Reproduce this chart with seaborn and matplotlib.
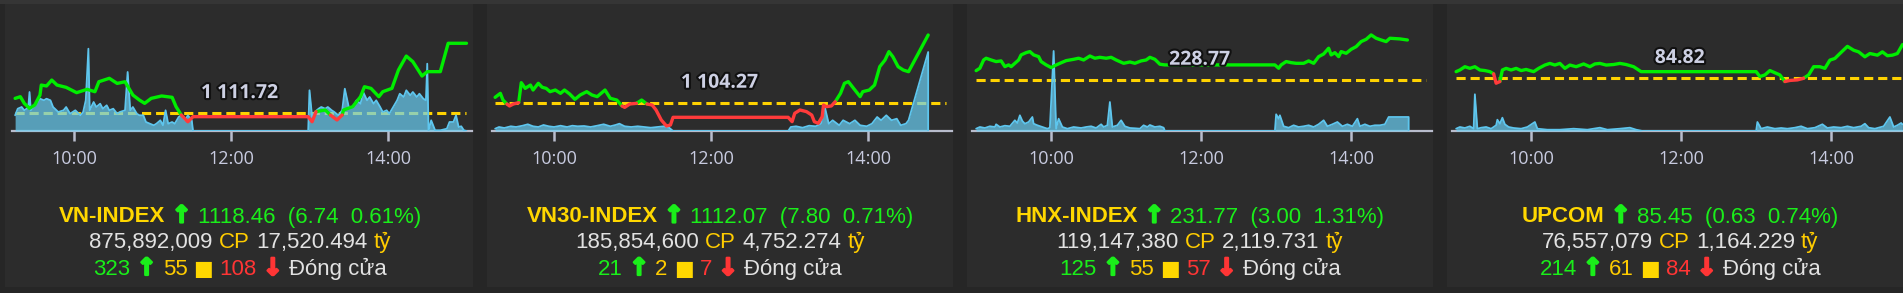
import matplotlib
matplotlib.use("Agg")
import matplotlib.pyplot as plt
import matplotlib.patheffects as pe
from matplotlib.patches import Rectangle
import numpy as np
import pandas as pd
import seaborn as sns

# ------------------------------------------------------------------ data
names = ["VN-INDEX", "VN30-INDEX", "HNX-INDEX", "UPCOM"]
ref_values = [1111.72, 1104.27, 228.77, 84.82]
close_values = ["1118.46", "1112.07", "231.77", "85.45"]
changes = ["6.74", "7.80", "3.00", "0.63"]
change_pcts = ["0.61%", "0.71%", "1.31%", "0.74%"]
volumes_cp = ["875,892,009", "185,854,600", "119,147,380", "76,557,079"]
values_ty = ["17,520.494", "4,752.274", "2,119.731", "1,164.229"]
advances = [323, 21, 125, 214]
unchanged = [55, 2, 55, 61]
declines = [108, 7, 57, 84]
status_text = "Đóng cửa"
tick_hours = [10, 12, 14]
tick_labels = ["10:00", "12:00", "14:00"]
session_end = "15:00"

# VN-INDEX intraday
vn_time = ["09:15", "09:19", "09:22", "09:26", "09:30", "09:34", "09:35", "09:39", "09:43", "09:47",
           "09:54", "10:02", "10:10", "10:16", "10:19", "10:27", "10:33", "10:39", "10:45", "10:50",
           "10:54", "10:59", "11:07", "11:15", "11:18", "11:22", "11:27", "11:31", "12:59", "13:02",
           "13:05", "13:12", "13:16", "13:21", "13:25", "13:26", "13:33", "13:39", "13:42", "13:47",
           "13:53", "13:56", "14:03", "14:08", "14:14", "14:19", "14:26", "14:30", "14:40", "14:46",
           "15:00"]
vn_value = [1113.16, 1113.32, 1112.68, 1112.20, 1112.52, 1113.48, 1114.44, 1114.35, 1114.92, 1114.44,
            1114.22, 1113.71, 1114.03, 1113.80, 1114.76, 1115.09, 1114.60, 1114.76, 1113.48, 1113.00,
            1112.68, 1113.16, 1113.39, 1113.26, 1112.36, 1111.56, 1110.91, 1111.40, 1111.40, 1110.91,
            1111.88, 1112.04, 1111.56, 1111.08, 1111.56, 1112.04, 1112.36, 1113.32, 1114.28, 1114.12,
            1113.32, 1113.80, 1114.12, 1115.89, 1117.23, 1116.69, 1115.31, 1115.73, 1115.73, 1118.46,
            1118.46]
vn_vol_time = ["09:15", "09:17", "09:20", "09:22", "09:25", "09:26", "09:27", "09:29", "09:31", "09:34",
               "09:37", "09:39", "09:42", "09:44", "09:48", "09:52", "09:54", "09:57", "10:01", "10:05",
               "10:07", "10:09", "10:11", "10:12", "10:15", "10:17", "10:20", "10:22", "10:25", "10:27",
               "10:30", "10:33", "10:35", "10:39", "10:41", "10:43", "10:45", "10:48", "10:50", "10:53",
               "10:55", "10:58", "11:01", "11:03", "11:06", "11:08", "11:10", "11:12", "11:15", "11:17",
               "11:20", "11:22", "11:25", "11:27", "11:30", "11:31", "12:59", "13:00", "13:02", "13:04",
               "13:07", "13:09", "13:12", "13:14", "13:17", "13:19", "13:22", "13:25", "13:27", "13:30",
               "13:33", "13:36", "13:39", "13:41", "13:44", "13:46", "13:49", "13:51", "13:54", "13:56",
               "13:59", "14:01", "14:04", "14:07", "14:09", "14:12", "14:14", "14:17", "14:19", "14:22",
               "14:24", "14:27", "14:29", "14:30", "14:31", "14:33", "14:36", "14:40", "14:45", "14:47",
               "14:50", "14:52", "14:54", "14:56", "14:58", "15:00"]
vn_vol = [157, 223, 240, 207, 233, 390, 207, 240, 273, 323,
          307, 323, 307, 240, 190, 207, 240, 173, 207, 157,
          190, 307, 823, 207, 290, 240, 273, 223, 257, 207,
          223, 173, 190, 207, 590, 207, 240, 173, 157, 157,
          90, 73, 57, 73, 107, 57, 207, 73, 90, 73,
          140, 157, 107, 157, 107, 0, 0, 407, 140, 190,
          223, 240, 223, 240, 207, 190, 157, 207, 423, 240,
          240, 307, 273, 390, 307, 340, 273, 307, 240, 190,
          207, 173, 240, 307, 373, 340, 407, 357, 390, 340,
          373, 323, 307, 673, 0, 107, 7, 7, 23, 90,
          90, 157, 40, 47, 7, 0]

# VN30-INDEX intraday
vn30_time = ["09:15", "09:19", "09:21", "09:24", "09:26", "09:29", "09:33", "09:35", "09:38", "09:42",
             "09:44", "09:48", "09:51", "09:54", "09:57", "10:01", "10:05", "10:08", "10:12", "10:16",
             "10:20", "10:25", "10:29", "10:33", "10:39", "10:43", "10:48", "10:52", "10:54", "10:58",
             "11:03", "11:07", "11:11", "11:15", "11:18", "11:22", "11:26", "11:29", "11:31", "12:59",
             "13:02", "13:04", "13:08", "13:13", "13:17", "13:19", "13:22", "13:25", "13:26", "13:28",
             "13:32", "13:35", "13:39", "13:42", "13:45", "13:49", "13:54", "13:56", "14:01", "14:05",
             "14:09", "14:13", "14:16", "14:19", "14:23", "14:27", "14:31", "14:46"]
vn30_value = [1104.92, 1105.38, 1104.61, 1104.16, 1103.93, 1104.16, 1104.31, 1106.60, 1105.95, 1106.33,
              1105.76, 1106.53, 1106.07, 1105.95, 1105.57, 1105.76, 1105.38, 1105.76, 1105.30, 1104.69,
              1105.19, 1105.57, 1105.19, 1105.00, 1105.76, 1104.81, 1104.61, 1103.93, 1103.77, 1104.16,
              1104.23, 1104.61, 1104.16, 1104.04, 1103.47, 1102.32, 1101.63, 1101.75, 1102.63, 1102.63,
              1102.13, 1103.09, 1103.47, 1103.28, 1102.89, 1102.13, 1101.94, 1102.70, 1104.04, 1103.85,
              1103.93, 1104.42, 1105.38, 1106.53, 1106.72, 1105.95, 1105.00, 1105.57, 1105.76, 1106.33,
              1108.44, 1109.20, 1110.16, 1109.58, 1108.44, 1108.05, 1107.86, 1112.07]
vn30_vol_time = ["09:15", "09:18", "09:22", "09:27", "09:31", "09:36", "09:40", "09:44", "09:48", "09:52",
                 "09:56", "10:00", "10:05", "10:10", "10:14", "10:18", "10:23", "10:28", "10:33", "10:38",
                 "10:43", "10:47", "10:50", "10:54", "10:59", "11:04", "11:09", "11:14", "11:19", "11:24",
                 "11:28", "11:31", "12:59", "13:01", "13:05", "13:10", "13:15", "13:20", "13:24", "13:27",
                 "13:30", "13:33", "13:38", "13:41", "13:46", "13:50", "13:54", "13:59", "14:03", "14:07",
                 "14:10", "14:14", "14:18", "14:22", "14:25", "14:29", "14:31", "14:46", "14:46"]
vn30_vol = [23, 40, 30, 47, 40, 53, 67, 47, 40, 60,
            47, 40, 53, 40, 53, 47, 50, 40, 53, 67,
            47, 60, 73, 47, 40, 47, 40, 33, 40, 47,
            33, 0, 0, 40, 47, 33, 53, 47, 73, 240,
            73, 107, 57, 107, 73, 107, 57, 47, 73, 140,
            107, 157, 107, 123, 57, 73, 107, 790, 0]

# HNX-INDEX intraday
hnx_time = ["09:00", "09:03", "09:06", "09:08", "09:12", "09:16", "09:20", "09:23", "09:26", "09:28",
            "09:31", "09:34", "09:36", "09:40", "09:43", "09:46", "09:50", "09:52", "09:56", "10:00",
            "10:03", "10:07", "10:12", "10:18", "10:22", "10:26", "10:31", "10:35", "10:39", "10:44",
            "10:48", "10:52", "10:58", "11:03", "11:07", "11:12", "11:16", "11:19", "11:23", "11:27",
            "11:31", "12:59", "13:02", "13:04", "13:08", "13:12", "13:16", "13:22", "13:26", "13:30",
            "13:34", "13:38", "13:42", "13:44", "13:47", "13:50", "13:52", "13:56", "14:00", "14:04",
            "14:08", "14:12", "14:16", "14:20", "14:24", "14:28", "14:31", "14:39", "14:45"]
hnx_value = [229.47, 229.65, 230.27, 230.40, 230.27, 230.15, 230.20, 229.77, 229.90, 229.77,
             230.02, 230.27, 230.65, 230.82, 230.90, 230.65, 230.52, 230.15, 229.90, 229.70,
             229.85, 230.02, 230.22, 230.32, 230.40, 230.27, 230.57, 230.40, 230.47, 230.40,
             230.47, 230.27, 230.02, 230.12, 230.02, 230.20, 230.27, 230.47, 230.32, 229.95,
             229.90, 229.90, 229.65, 229.90, 230.15, 230.07, 230.02, 230.02, 230.20, 230.02,
             230.52, 230.72, 231.15, 230.65, 230.82, 230.52, 230.90, 230.77, 231.07, 231.27,
             231.65, 231.82, 232.15, 231.90, 231.77, 231.65, 231.90, 231.85, 231.77]
hnx_vol_time = ["09:00", "09:03", "09:07", "09:11", "09:15", "09:16", "09:19", "09:23", "09:27", "09:31",
                "09:33", "09:35", "09:37", "09:39", "09:42", "09:45", "09:46", "09:49", "09:53", "09:57",
                "09:59", "10:02", "10:04", "10:06", "10:09", "10:13", "10:18", "10:24", "10:28", "10:32",
                "10:36", "10:40", "10:42", "10:45", "10:47", "10:49", "10:53", "10:56", "10:59", "11:03",
                "11:07", "11:11", "11:14", "11:17", "11:19", "11:23", "11:27", "11:30", "11:31", "12:59",
                "13:00", "13:02", "13:03", "13:06", "13:10", "13:14", "13:18", "13:22", "13:26", "13:30",
                "13:34", "13:38", "13:41", "13:45", "13:49", "13:53", "13:57", "14:01", "14:05", "14:07",
                "14:11", "14:15", "14:19", "14:23", "14:27", "14:30", "14:46", "14:46"]
hnx_vol = [23, 40, 30, 47, 40, 67, 40, 53, 47, 107,
           80, 157, 100, 73, 90, 140, 73, 57, 40, 23,
           33, 800, 23, 123, 40, 23, 40, 30, 40, 47,
           30, 67, 40, 57, 290, 40, 57, 107, 47, 30,
           27, 23, 57, 40, 60, 40, 47, 33, 0, 0,
           167, 123, 157, 47, 33, 57, 40, 47, 57, 40,
           67, 107, 47, 67, 90, 47, 67, 47, 123, 47,
           67, 47, 57, 57, 67, 140, 140, 0]

# UPCOM intraday
up_time = ["09:00", "09:03", "09:07", "09:11", "09:15", "09:19", "09:23", "09:27", "09:30", "09:32",
           "09:35", "09:37", "09:40", "09:44", "09:48", "09:52", "09:56", "10:02", "10:06", "10:11",
           "10:15", "10:19", "10:23", "10:27", "10:31", "10:36", "10:42", "10:47", "10:51", "10:55",
           "11:00", "11:06", "11:11", "11:16", "11:22", "11:28", "13:00", "13:03", "13:07", "13:11",
           "13:15", "13:19", "13:23", "13:27", "13:33", "13:38", "13:42", "13:46", "13:51", "13:55",
           "13:59", "14:03", "14:07", "14:13", "14:18", "14:22", "14:27", "14:31", "14:37", "14:41",
           "14:45", "14:49", "14:53", "14:57", "15:00"]
up_value = [84.94, 84.97, 85.03, 85.00, 85.03, 84.97, 84.96, 84.94, 84.90, 84.73,
            84.76, 84.97, 85.00, 84.97, 85.00, 84.96, 84.98, 84.94, 85.00, 85.06,
            85.09, 85.06, 85.09, 85.00, 85.06, 85.03, 85.08, 85.03, 85.08, 85.09,
            85.06, 85.07, 85.09, 85.07, 85.03, 84.94, 84.94, 84.85, 84.88, 84.96,
            84.92, 84.88, 84.76, 84.78, 84.79, 84.82, 84.88, 85.03, 85.03, 85.00,
            85.15, 85.18, 85.27, 85.40, 85.33, 85.30, 85.21, 85.27, 85.24, 85.30,
            85.23, 85.24, 85.27, 85.43, 85.45]
up_vol_time = ["09:00", "09:03", "09:07", "09:11", "09:14", "09:15", "09:17", "09:20", "09:24", "09:28",
               "09:32", "09:33", "09:35", "09:37", "09:39", "09:42", "09:46", "09:52", "09:57", "10:03",
               "10:05", "10:13", "10:23", "10:34", "10:45", "10:55", "11:01", "11:11", "11:19", "11:24",
               "11:29", "13:00", "13:01", "13:04", "13:09", "13:15", "13:20", "13:25", "13:31", "13:36",
               "13:41", "13:47", "13:53", "13:57", "14:02", "14:08", "14:13", "14:18", "14:24", "14:27",
               "14:30", "14:35", "14:42", "14:47", "14:50", "14:53", "14:56", "14:57"]
up_vol = [23, 40, 30, 47, 23, 367, 23, 33, 40, 23,
          57, 113, 73, 133, 67, 40, 30, 23, 40, 90,
          23, 13, 13, 23, 13, 33, 13, 23, 33, 13,
          0, 0, 90, 23, 40, 23, 30, 23, 33, 47,
          23, 33, 67, 30, 40, 33, 47, 33, 47, 73,
          33, 23, 47, 140, 40, 57, 80, 67]

series_time = [vn_time, vn30_time, hnx_time, up_time]
series_value = [vn_value, vn30_value, hnx_value, up_value]
series_vol_time = [vn_vol_time, vn30_vol_time, hnx_vol_time, up_vol_time]
series_vol = [vn_vol, vn30_vol, hnx_vol, up_vol]

# ------------------------------------------------------------------ style / layout
W, H = 1903, 293
BG_OUT = "#262626"
BG_PANEL = "#2c2c2c"
GREEN = "#00ee00"
RED = "#ff3b3b"
REF_YELLOW = "#ffd200"
VOL_FILL = "#6ad0f5"
VOL_LINE = "#5ec6ee"
TXT_GREEN = "#1aee1a"
TXT_YELLOW = "#ffd700"
TXT_YELLOW2 = "#ffcc00"
TXT_GRAY = "#e2e2e2"
TXT_RED = "#ff3535"
AXIS_COL = "#b8bccc"
TICK_TXT = "#c8cbe0"

xlims = [(9.2102, 15.0702), (9.2102, 15.0702), (8.945, 15.078), (8.945, 15.078)]
ylims = [(1110.02, 1120.70), (1101.06, 1113.79), (224.94, 233.27), (83.86, 85.88)]
vol_lim = (0, 1110)

sns.set_theme(style="ticks")
plt.rcParams["font.family"] = ["Liberation Sans", "DejaVu Sans"]


def hours(s):
    h, m = s.split(":")
    return int(h) + int(m) / 60.0


def split_by_reference(times, values, ref):
    rows = []
    seg = 0
    prev = None
    for i in range(len(values) - 1):
        side = "up" if (values[i] + values[i + 1]) / 2.0 >= ref else "down"
        if side != prev:
            seg += 1
            rows.append((hours(times[i]), values[i], seg, side))
        rows.append((hours(times[i + 1]), values[i + 1], seg, side))
        prev = side
    return pd.DataFrame(rows, columns=["t", "v", "seg", "side"])


fig = plt.figure(figsize=(W / 100, H / 100), dpi=100)
fig.patch.set_facecolor(BG_OUT)


def frect(x, y, w, h, color):
    fig.add_artist(Rectangle((x / W, 1 - (y + h) / H), w / W, h / H,
                             transform=fig.transFigure, color=color, zorder=0, lw=0))


frect(0, 0, W, 4, "#353535")
for px0, px1 in [(5, 473), (487, 953), (967, 1433), (1447, 1903)]:
    frect(px0, 4, px1 - px0, 283, BG_PANEL)

for i in range(4):
    left = (12 + 480 * i) / W
    rect = [left, 1 - 131 / H, 460 / W, 111 / H]
    ax_ref = fig.add_axes(rect, zorder=1)
    ax_vol = fig.add_axes(rect, zorder=2)
    ax_top = fig.add_axes(rect, zorder=3)
    for a in (ax_ref, ax_vol, ax_top):
        a.set_facecolor("none")
        a.set_xlim(*xlims[i])
    ax_ref.set_ylim(*ylims[i])
    ax_top.set_ylim(*ylims[i])
    ax_vol.set_ylim(*vol_lim)

    ref = ref_values[i]
    t_idx = [hours(s) for s in series_time[i]]

    # reference (previous close) dashed line
    ax_ref.hlines(ref, t_idx[0], hours(session_end), colors=REF_YELLOW,
                  linewidth=2.2, linestyles=(0, (3, 1.6)))

    # volume area
    tv = [hours(s) for s in series_vol_time[i]]
    ax_vol.fill_between(tv, series_vol[i], 0, color=VOL_FILL, alpha=0.7, lw=0)
    sns.lineplot(x=tv, y=series_vol[i], ax=ax_vol, color=VOL_LINE, lw=1.3,
                 estimator=None, sort=False, legend=False)

    # index line, green above reference, red below
    df = split_by_reference(series_time[i], series_value[i], ref)
    sns.lineplot(data=df, x="t", y="v", hue="side", units="seg", estimator=None,
                 sort=False, palette={"up": GREEN, "down": RED}, lw=2.4,
                 legend=False, ax=ax_top)

    # reference label
    label = f"{ref:,.2f}".replace(",", " ")
    ax_top.annotate(label, xy=(0.495, ref), xycoords=("axes fraction", "data"),
                    xytext=(0, 11), textcoords="offset points", ha="center",
                    va="baseline", fontsize=14, fontweight="bold",
                    family=["Open Sans", "DejaVu Sans"], color="#cdd0e3",
                    path_effects=[pe.withStroke(linewidth=3, foreground="#111111")],
                    zorder=10)

    for a in (ax_vol, ax_top):
        a.set_axis_off()
    for s in ("top", "left", "right"):
        ax_ref.spines[s].set_visible(False)
    ax_ref.spines["bottom"].set_color(AXIS_COL)
    ax_ref.spines["bottom"].set_linewidth(1.6)
    ax_ref.set_yticks([])
    ax_ref.set_xticks(tick_hours)
    ax_ref.set_xticklabels(tick_labels, family=["Open Sans", "DejaVu Sans"])
    ax_ref.tick_params(axis="x", direction="out", length=7.2, width=1.8,
                       color=AXIS_COL, labelcolor=TICK_TXT, labelsize=13, pad=6.5)
    ax_ref.set_xlabel("")
    ax_ref.set_ylabel("")
    for a in (ax_vol, ax_top):
        a.set_xlabel("")
        a.set_ylabel("")

# ------------------------------------------------------------------ text rows
renderer = fig.canvas.get_renderer()
FS = 16
SPACE = 0.278 * FS * 100 / 72
TXT_FAM = ["Liberation Sans", "DejaVu Sans"]
SYM_FAM = ["DejaVu Sans"]


def rich_line(cx, y_base, pieces):
    texts, widths = [], []
    for p in pieces:
        s, color, weight = p[:3]
        fam = p[3] if len(p) > 3 else TXT_FAM
        size = p[4] if len(p) > 4 else FS
        stroke = p[5] if len(p) > 5 else 0
        t = fig.text(0, 1 - y_base / H, s, color=color, fontsize=size, fontweight=weight,
                     family=fam, ha="left", va="baseline")
        if stroke:
            t.set_path_effects([pe.withStroke(linewidth=stroke, foreground=color)])
        widths.append(t.get_window_extent(renderer).width)
        texts.append(t)
    total = sum(widths) + SPACE * (len(pieces) - 1)
    x = cx - total / 2
    for t, w in zip(texts, widths):
        t.set_x(x / W)
        x += w + SPACE


for i in range(4):
    cx = 240 + 480 * i
    rich_line(cx, 222.5, [
        (names[i], TXT_YELLOW, "bold"),
        ("↑", TXT_GREEN, "bold", SYM_FAM, 17, 1.6),
        (f"{close_values[i]}  ({changes[i]}  {change_pcts[i]})", TXT_GREEN, "normal"),
    ])
    rich_line(cx, 248.3, [
        (volumes_cp[i], TXT_GRAY, "normal"),
        ("CP", TXT_YELLOW2, "normal"),
        (values_ty[i], TXT_GRAY, "normal"),
        ("tỷ", TXT_YELLOW2, "normal"),
    ])
    rich_line(cx, 275, [
        (str(advances[i]), TXT_GREEN, "normal"),
        ("↑", TXT_GREEN, "bold", SYM_FAM, 17, 1.6),
        (str(unchanged[i]), TXT_YELLOW2, "normal"),
        ("■", TXT_YELLOW, "normal", SYM_FAM, 15),
        (str(declines[i]), TXT_RED, "normal"),
        ("↓", TXT_RED, "bold", SYM_FAM, 17, 1.6),
        (status_text, TXT_GRAY, "normal"),
    ])

fig.savefig("out.png", dpi=100, facecolor=fig.get_facecolor())
